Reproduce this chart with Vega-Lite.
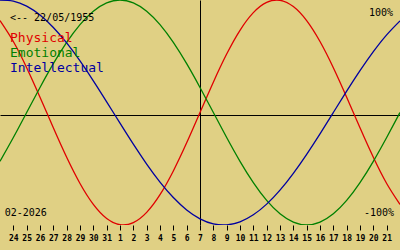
{
  "$schema": "https://vega.github.io/schema/vega-lite/v6.json",
  "width": 400,
  "height": 225,
  "autosize": {"type": "none"},
  "padding": {"left": 0, "top": 0, "right": 0, "bottom": 25},
  "background": "#e0d084",
  "config": {
    "view": {"stroke": null},
    "font": "DejaVu Sans Mono"
  },
  "data": {
    "values": [
      {"d": -15, "series": "Physical", "v": 0.8170},
      {"d": -14, "series": "Physical", "v": 0.6311},
      {"d": -13, "series": "Physical", "v": 0.3984},
      {"d": -12, "series": "Physical", "v": 0.1362},
      {"d": -11, "series": "Physical", "v": -0.1362},
      {"d": -10, "series": "Physical", "v": -0.3984},
      {"d": -9, "series": "Physical", "v": -0.6311},
      {"d": -8, "series": "Physical", "v": -0.8170},
      {"d": -7, "series": "Physical", "v": -0.9423},
      {"d": -6, "series": "Physical", "v": -0.9977},
      {"d": -5, "series": "Physical", "v": -0.9791},
      {"d": -4, "series": "Physical", "v": -0.8879},
      {"d": -3, "series": "Physical", "v": -0.7308},
      {"d": -2, "series": "Physical", "v": -0.5196},
      {"d": -1, "series": "Physical", "v": -0.2698},
      {"d": 0, "series": "Physical", "v": 0},
      {"d": 1, "series": "Physical", "v": 0.2698},
      {"d": 2, "series": "Physical", "v": 0.5196},
      {"d": 3, "series": "Physical", "v": 0.7308},
      {"d": 4, "series": "Physical", "v": 0.8879},
      {"d": 5, "series": "Physical", "v": 0.9791},
      {"d": 6, "series": "Physical", "v": 0.9977},
      {"d": 7, "series": "Physical", "v": 0.9423},
      {"d": 8, "series": "Physical", "v": 0.8170},
      {"d": 9, "series": "Physical", "v": 0.6311},
      {"d": 10, "series": "Physical", "v": 0.3984},
      {"d": 11, "series": "Physical", "v": 0.1362},
      {"d": 12, "series": "Physical", "v": -0.1362},
      {"d": 13, "series": "Physical", "v": -0.3984},
      {"d": 14, "series": "Physical", "v": -0.6311},
      {"d": 15, "series": "Physical", "v": -0.8170},
      {"d": -15, "series": "Emotional", "v": -0.4339},
      {"d": -14, "series": "Emotional", "v": -0.2225},
      {"d": -13, "series": "Emotional", "v": 0},
      {"d": -12, "series": "Emotional", "v": 0.2225},
      {"d": -11, "series": "Emotional", "v": 0.4339},
      {"d": -10, "series": "Emotional", "v": 0.6235},
      {"d": -9, "series": "Emotional", "v": 0.7818},
      {"d": -8, "series": "Emotional", "v": 0.9010},
      {"d": -7, "series": "Emotional", "v": 0.9749},
      {"d": -6, "series": "Emotional", "v": 1},
      {"d": -5, "series": "Emotional", "v": 0.9749},
      {"d": -4, "series": "Emotional", "v": 0.9010},
      {"d": -3, "series": "Emotional", "v": 0.7818},
      {"d": -2, "series": "Emotional", "v": 0.6235},
      {"d": -1, "series": "Emotional", "v": 0.4339},
      {"d": 0, "series": "Emotional", "v": 0.2225},
      {"d": 1, "series": "Emotional", "v": 0},
      {"d": 2, "series": "Emotional", "v": -0.2225},
      {"d": 3, "series": "Emotional", "v": -0.4339},
      {"d": 4, "series": "Emotional", "v": -0.6235},
      {"d": 5, "series": "Emotional", "v": -0.7818},
      {"d": 6, "series": "Emotional", "v": -0.9010},
      {"d": 7, "series": "Emotional", "v": -0.9749},
      {"d": 8, "series": "Emotional", "v": -1},
      {"d": 9, "series": "Emotional", "v": -0.9749},
      {"d": 10, "series": "Emotional", "v": -0.9010},
      {"d": 11, "series": "Emotional", "v": -0.7818},
      {"d": 12, "series": "Emotional", "v": -0.6235},
      {"d": 13, "series": "Emotional", "v": -0.4339},
      {"d": 14, "series": "Emotional", "v": -0.2225},
      {"d": 15, "series": "Emotional", "v": 0},
      {"d": -15, "series": "Intellectual", "v": 0.9989},
      {"d": -14, "series": "Intellectual", "v": 0.9898},
      {"d": -13, "series": "Intellectual", "v": 0.9450},
      {"d": -12, "series": "Intellectual", "v": 0.8660},
      {"d": -11, "series": "Intellectual", "v": 0.7557},
      {"d": -10, "series": "Intellectual", "v": 0.6182},
      {"d": -9, "series": "Intellectual", "v": 0.4582},
      {"d": -8, "series": "Intellectual", "v": 0.2817},
      {"d": -7, "series": "Intellectual", "v": 0.0951},
      {"d": -6, "series": "Intellectual", "v": -0.0951},
      {"d": -5, "series": "Intellectual", "v": -0.2817},
      {"d": -4, "series": "Intellectual", "v": -0.4582},
      {"d": -3, "series": "Intellectual", "v": -0.6182},
      {"d": -2, "series": "Intellectual", "v": -0.7557},
      {"d": -1, "series": "Intellectual", "v": -0.8660},
      {"d": 0, "series": "Intellectual", "v": -0.9450},
      {"d": 1, "series": "Intellectual", "v": -0.9898},
      {"d": 2, "series": "Intellectual", "v": -0.9989},
      {"d": 3, "series": "Intellectual", "v": -0.9718},
      {"d": 4, "series": "Intellectual", "v": -0.9096},
      {"d": 5, "series": "Intellectual", "v": -0.8146},
      {"d": 6, "series": "Intellectual", "v": -0.6901},
      {"d": 7, "series": "Intellectual", "v": -0.5406},
      {"d": 8, "series": "Intellectual", "v": -0.3717},
      {"d": 9, "series": "Intellectual", "v": -0.1893},
      {"d": 10, "series": "Intellectual", "v": 0},
      {"d": 11, "series": "Intellectual", "v": 0.1893},
      {"d": 12, "series": "Intellectual", "v": 0.3717},
      {"d": 13, "series": "Intellectual", "v": 0.5406},
      {"d": 14, "series": "Intellectual", "v": 0.6901},
      {"d": 15, "series": "Intellectual", "v": 0.8146}
    ]
  },
  "layer": [
    {
      "mark": {"type": "line", "interpolate": "natural", "strokeWidth": 1.3, "clip": true},
      "encoding": {
        "x": {
          "field": "d",
          "type": "quantitative",
          "scale": {"domain": [-15, 15], "nice": false, "zero": false},
          "axis": {"title": null, "domain": false, "grid": true, "gridWidth": 1, "gridColor": {"condition": {"test": "datum.value === 0", "value": "black"}, "value": "transparent"}, "values": [-14, -13, -12, -11, -10, -9, -8, -7, -6, -5, -4, -3, -2, -1, 0, 1, 2, 3, 4, 5, 6, 7, 8, 9, 10, 11, 12, 13, 14], "labelExpr": "datum.value <= -7 ? datum.value + 38 : datum.value + 7", "tickSize": 5, "tickColor": "black", "tickWidth": 1, "labelColor": "black", "labelFont": "DejaVu Sans Mono", "labelFontSize": 8, "labelFontWeight": "bold", "labelPadding": 4, "labelFlush": false, "labelOverlap": false}
        },
        "y": {
          "field": "v",
          "type": "quantitative",
          "scale": {"domain": [-1, 1], "nice": false, "zero": false},
          "axis": {"title": null, "orient": "left", "values": [-0.02], "grid": true, "gridColor": "black", "gridWidth": 1, "gridOpacity": 1, "domain": false, "ticks": false, "labels": false}
        },
        "color": {
          "field": "series",
          "type": "nominal",
          "scale": {"domain": ["Physical", "Emotional", "Intellectual"], "range": ["#e00000", "#008000", "#0000a0"]},
          "legend": null
        }
      }
    },
    {
      "data": {"values": [{}]},
      "mark": {"type": "text", "align": "left", "baseline": "alphabetic", "font": "DejaVu Sans Mono", "fontSize": 10, "color": "black"},
      "encoding": {
        "x": {"datum": -14.25, "type": "quantitative", "axis": {"title": null, "domain": false, "grid": true, "gridWidth": 1, "gridColor": {"condition": {"test": "datum.value === 0", "value": "black"}, "value": "transparent"}, "values": [-14, -13, -12, -11, -10, -9, -8, -7, -6, -5, -4, -3, -2, -1, 0, 1, 2, 3, 4, 5, 6, 7, 8, 9, 10, 11, 12, 13, 14], "labelExpr": "datum.value <= -7 ? datum.value + 38 : datum.value + 7", "tickSize": 5, "tickColor": "black", "tickWidth": 1, "labelColor": "black", "labelFont": "DejaVu Sans Mono", "labelFontSize": 8, "labelFontWeight": "bold", "labelPadding": 4, "labelFlush": false, "labelOverlap": false}},
        "y": {"datum": 0.813, "type": "quantitative", "axis": {"title": null, "orient": "left", "values": [-0.02], "grid": true, "gridColor": "black", "gridWidth": 1, "gridOpacity": 1, "domain": false, "ticks": false, "labels": false}},
        "text": {"value": "<-- 22/05/1955"}
      }
    },
    {
      "data": {"values": [{}]},
      "mark": {"type": "text", "align": "left", "baseline": "alphabetic", "font": "DejaVu Sans Mono", "fontSize": 13, "color": "#e00000"},
      "encoding": {
        "x": {"datum": -14.25, "type": "quantitative", "axis": {"title": null, "domain": false, "grid": true, "gridWidth": 1, "gridColor": {"condition": {"test": "datum.value === 0", "value": "black"}, "value": "transparent"}, "values": [-14, -13, -12, -11, -10, -9, -8, -7, -6, -5, -4, -3, -2, -1, 0, 1, 2, 3, 4, 5, 6, 7, 8, 9, 10, 11, 12, 13, 14], "labelExpr": "datum.value <= -7 ? datum.value + 38 : datum.value + 7", "tickSize": 5, "tickColor": "black", "tickWidth": 1, "labelColor": "black", "labelFont": "DejaVu Sans Mono", "labelFontSize": 8, "labelFontWeight": "bold", "labelPadding": 4, "labelFlush": false, "labelOverlap": false}},
        "y": {"datum": 0.624, "type": "quantitative", "axis": {"title": null, "orient": "left", "values": [-0.02], "grid": true, "gridColor": "black", "gridWidth": 1, "gridOpacity": 1, "domain": false, "ticks": false, "labels": false}},
        "text": {"value": "Physical"}
      }
    },
    {
      "data": {"values": [{}]},
      "mark": {"type": "text", "align": "left", "baseline": "alphabetic", "font": "DejaVu Sans Mono", "fontSize": 13, "color": "#008000"},
      "encoding": {
        "x": {"datum": -14.25, "type": "quantitative", "axis": {"title": null, "domain": false, "grid": true, "gridWidth": 1, "gridColor": {"condition": {"test": "datum.value === 0", "value": "black"}, "value": "transparent"}, "values": [-14, -13, -12, -11, -10, -9, -8, -7, -6, -5, -4, -3, -2, -1, 0, 1, 2, 3, 4, 5, 6, 7, 8, 9, 10, 11, 12, 13, 14], "labelExpr": "datum.value <= -7 ? datum.value + 38 : datum.value + 7", "tickSize": 5, "tickColor": "black", "tickWidth": 1, "labelColor": "black", "labelFont": "DejaVu Sans Mono", "labelFontSize": 8, "labelFontWeight": "bold", "labelPadding": 4, "labelFlush": false, "labelOverlap": false}},
        "y": {"datum": 0.491, "type": "quantitative", "axis": {"title": null, "orient": "left", "values": [-0.02], "grid": true, "gridColor": "black", "gridWidth": 1, "gridOpacity": 1, "domain": false, "ticks": false, "labels": false}},
        "text": {"value": "Emotional"}
      }
    },
    {
      "data": {"values": [{}]},
      "mark": {"type": "text", "align": "left", "baseline": "alphabetic", "font": "DejaVu Sans Mono", "fontSize": 13, "color": "#0000a0"},
      "encoding": {
        "x": {"datum": -14.25, "type": "quantitative", "axis": {"title": null, "domain": false, "grid": true, "gridWidth": 1, "gridColor": {"condition": {"test": "datum.value === 0", "value": "black"}, "value": "transparent"}, "values": [-14, -13, -12, -11, -10, -9, -8, -7, -6, -5, -4, -3, -2, -1, 0, 1, 2, 3, 4, 5, 6, 7, 8, 9, 10, 11, 12, 13, 14], "labelExpr": "datum.value <= -7 ? datum.value + 38 : datum.value + 7", "tickSize": 5, "tickColor": "black", "tickWidth": 1, "labelColor": "black", "labelFont": "DejaVu Sans Mono", "labelFontSize": 8, "labelFontWeight": "bold", "labelPadding": 4, "labelFlush": false, "labelOverlap": false}},
        "y": {"datum": 0.357, "type": "quantitative", "axis": {"title": null, "orient": "left", "values": [-0.02], "grid": true, "gridColor": "black", "gridWidth": 1, "gridOpacity": 1, "domain": false, "ticks": false, "labels": false}},
        "text": {"value": "Intellectual"}
      }
    },
    {
      "data": {"values": [{}]},
      "mark": {"type": "text", "align": "right", "baseline": "alphabetic", "font": "DejaVu Sans Mono", "fontSize": 10, "color": "black"},
      "encoding": {
        "x": {"datum": 14.48, "type": "quantitative", "axis": {"title": null, "domain": false, "grid": true, "gridWidth": 1, "gridColor": {"condition": {"test": "datum.value === 0", "value": "black"}, "value": "transparent"}, "values": [-14, -13, -12, -11, -10, -9, -8, -7, -6, -5, -4, -3, -2, -1, 0, 1, 2, 3, 4, 5, 6, 7, 8, 9, 10, 11, 12, 13, 14], "labelExpr": "datum.value <= -7 ? datum.value + 38 : datum.value + 7", "tickSize": 5, "tickColor": "black", "tickWidth": 1, "labelColor": "black", "labelFont": "DejaVu Sans Mono", "labelFontSize": 8, "labelFontWeight": "bold", "labelPadding": 4, "labelFlush": false, "labelOverlap": false}},
        "y": {"datum": 0.858, "type": "quantitative", "axis": {"title": null, "orient": "left", "values": [-0.02], "grid": true, "gridColor": "black", "gridWidth": 1, "gridOpacity": 1, "domain": false, "ticks": false, "labels": false}},
        "text": {"value": "100%"}
      }
    },
    {
      "data": {"values": [{}]},
      "mark": {"type": "text", "align": "right", "baseline": "alphabetic", "font": "DejaVu Sans Mono", "fontSize": 10, "color": "black"},
      "encoding": {
        "x": {"datum": 14.55, "type": "quantitative", "axis": {"title": null, "domain": false, "grid": true, "gridWidth": 1, "gridColor": {"condition": {"test": "datum.value === 0", "value": "black"}, "value": "transparent"}, "values": [-14, -13, -12, -11, -10, -9, -8, -7, -6, -5, -4, -3, -2, -1, 0, 1, 2, 3, 4, 5, 6, 7, 8, 9, 10, 11, 12, 13, 14], "labelExpr": "datum.value <= -7 ? datum.value + 38 : datum.value + 7", "tickSize": 5, "tickColor": "black", "tickWidth": 1, "labelColor": "black", "labelFont": "DejaVu Sans Mono", "labelFontSize": 8, "labelFontWeight": "bold", "labelPadding": 4, "labelFlush": false, "labelOverlap": false}},
        "y": {"datum": -0.92, "type": "quantitative", "axis": {"title": null, "orient": "left", "values": [-0.02], "grid": true, "gridColor": "black", "gridWidth": 1, "gridOpacity": 1, "domain": false, "ticks": false, "labels": false}},
        "text": {"value": "-100%"}
      }
    },
    {
      "data": {"values": [{}]},
      "mark": {"type": "text", "align": "left", "baseline": "alphabetic", "font": "DejaVu Sans Mono", "fontSize": 10, "color": "black"},
      "encoding": {
        "x": {"datum": -14.65, "type": "quantitative", "axis": {"title": null, "domain": false, "grid": true, "gridWidth": 1, "gridColor": {"condition": {"test": "datum.value === 0", "value": "black"}, "value": "transparent"}, "values": [-14, -13, -12, -11, -10, -9, -8, -7, -6, -5, -4, -3, -2, -1, 0, 1, 2, 3, 4, 5, 6, 7, 8, 9, 10, 11, 12, 13, 14], "labelExpr": "datum.value <= -7 ? datum.value + 38 : datum.value + 7", "tickSize": 5, "tickColor": "black", "tickWidth": 1, "labelColor": "black", "labelFont": "DejaVu Sans Mono", "labelFontSize": 8, "labelFontWeight": "bold", "labelPadding": 4, "labelFlush": false, "labelOverlap": false}},
        "y": {"datum": -0.92, "type": "quantitative", "axis": {"title": null, "orient": "left", "values": [-0.02], "grid": true, "gridColor": "black", "gridWidth": 1, "gridOpacity": 1, "domain": false, "ticks": false, "labels": false}},
        "text": {"value": "02-2026"}
      }
    }
  ]
}
